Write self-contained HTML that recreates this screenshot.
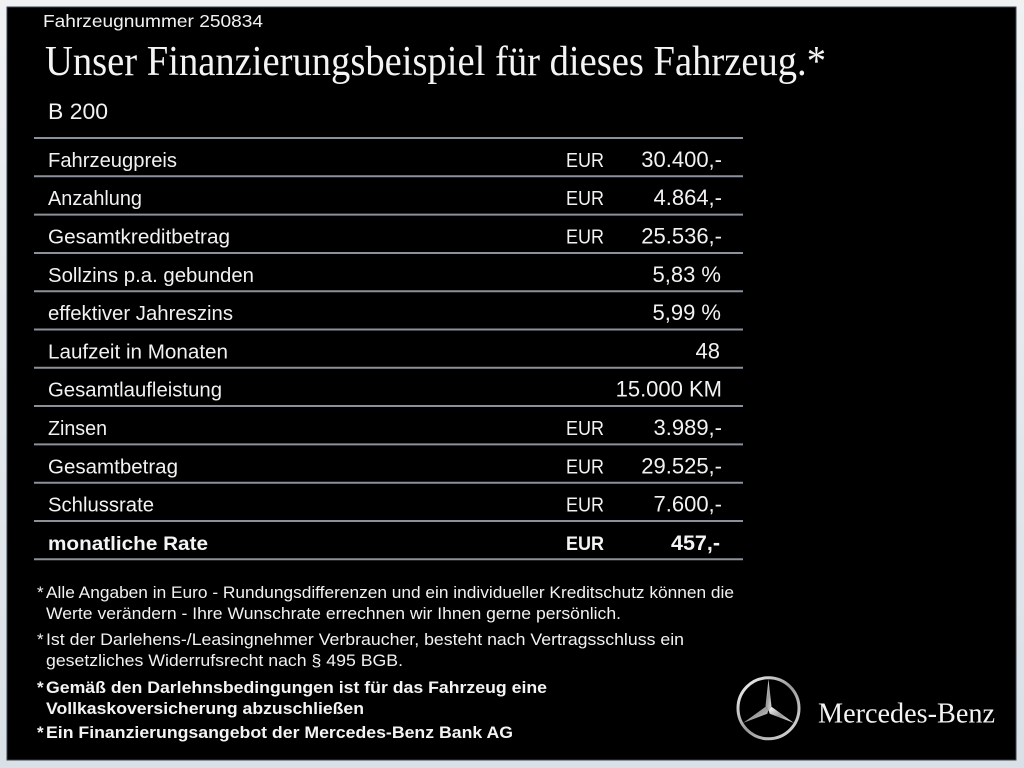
<!DOCTYPE html>
<html><head><meta charset="utf-8"><style>
html,body{margin:0;padding:0;width:1024px;height:768px;overflow:hidden;background:#e6eaee;}
svg{display:block;}
.s{font-family:"Liberation Sans",sans-serif;fill:#f2f2f2;}
.b{font-family:"Liberation Sans",sans-serif;fill:#f4f4f4;font-weight:bold;}
.f{font-family:"Liberation Serif",serif;fill:#f4f4f4;}
</style></head><body>
<svg width="1024" height="768" viewBox="0 0 1024 768" xmlns="http://www.w3.org/2000/svg">
<defs>
<linearGradient id="bg" x1="0" y1="0" x2="0" y2="1">
<stop offset="0" stop-color="#eff1f3"/><stop offset="1" stop-color="#d9e0e6"/>
</linearGradient>
<linearGradient id="silver" x1="0" y1="0" x2="1" y2="1">
<stop offset="0" stop-color="#ffffff"/><stop offset="0.5" stop-color="#9a9a9a"/><stop offset="1" stop-color="#e0e0e0"/>
</linearGradient>
</defs>
<rect x="0" y="0" width="1024" height="768" fill="url(#bg)"/>
<rect x="7" y="7" width="1009" height="753" fill="#000" stroke="#3a4450" stroke-width="1"/>

<text class="s" x="43" y="27" font-size="17.5" textLength="220" lengthAdjust="spacingAndGlyphs">Fahrzeugnummer 250834</text>
<text class="f" x="45" y="75" font-size="42" textLength="781" lengthAdjust="spacingAndGlyphs">Unser Finanzierungsbeispiel für dieses Fahrzeug.*</text>
<text class="s" x="48" y="119" font-size="22" textLength="60" lengthAdjust="spacingAndGlyphs">B 200</text>

<g stroke="#8a919a" stroke-width="2">
<line x1="34" y1="138" x2="743" y2="138"/>
<line x1="34" y1="176.3" x2="743" y2="176.3"/>
<line x1="34" y1="214.6" x2="743" y2="214.6"/>
<line x1="34" y1="253" x2="743" y2="253"/>
<line x1="34" y1="291.2" x2="743" y2="291.2"/>
<line x1="34" y1="329.5" x2="743" y2="329.5"/>
<line x1="34" y1="367.8" x2="743" y2="367.8"/>
<line x1="34" y1="406" x2="743" y2="406"/>
<line x1="34" y1="444.4" x2="743" y2="444.4"/>
<line x1="34" y1="482.7" x2="743" y2="482.7"/>
<line x1="34" y1="521" x2="743" y2="521"/>
<line x1="34" y1="559.3" x2="743" y2="559.3"/>
</g>

<g class="s" font-size="20.5">
<text x="48" y="166.8" textLength="129" lengthAdjust="spacingAndGlyphs">Fahrzeugpreis</text>
<text x="48" y="205.1" textLength="94" lengthAdjust="spacingAndGlyphs">Anzahlung</text>
<text x="48" y="243.5" textLength="182" lengthAdjust="spacingAndGlyphs">Gesamtkreditbetrag</text>
<text x="48" y="281.8" textLength="206" lengthAdjust="spacingAndGlyphs">Sollzins p.a. gebunden</text>
<text x="48" y="320.1" textLength="185" lengthAdjust="spacingAndGlyphs">effektiver Jahreszins</text>
<text x="48" y="358.4" textLength="180" lengthAdjust="spacingAndGlyphs">Laufzeit in Monaten</text>
<text x="48" y="396.6" textLength="174" lengthAdjust="spacingAndGlyphs">Gesamtlaufleistung</text>
<text x="48" y="435" textLength="59" lengthAdjust="spacingAndGlyphs">Zinsen</text>
<text x="48" y="473.3" textLength="130" lengthAdjust="spacingAndGlyphs">Gesamtbetrag</text>
<text x="48" y="511.6" textLength="106" lengthAdjust="spacingAndGlyphs">Schlussrate</text>
</g>
<text class="b" x="48" y="549.9" font-size="19.5" textLength="160" lengthAdjust="spacingAndGlyphs">monatliche Rate</text>

<g class="s" font-size="20.5">
<text x="566" y="166.8" textLength="38" lengthAdjust="spacingAndGlyphs">EUR</text>
<text x="566" y="205.1" textLength="38" lengthAdjust="spacingAndGlyphs">EUR</text>
<text x="566" y="243.5" textLength="38" lengthAdjust="spacingAndGlyphs">EUR</text>
<text x="566" y="435" textLength="38" lengthAdjust="spacingAndGlyphs">EUR</text>
<text x="566" y="473.3" textLength="38" lengthAdjust="spacingAndGlyphs">EUR</text>
<text x="566" y="511.6" textLength="38" lengthAdjust="spacingAndGlyphs">EUR</text>
</g>
<text class="b" x="566" y="549.9" font-size="19.5" textLength="38" lengthAdjust="spacingAndGlyphs">EUR</text>

<g class="s" font-size="22" text-anchor="end">
<text x="722" y="166.8">30.400,-</text>
<text x="722" y="205.1">4.864,-</text>
<text x="722" y="243.5">25.536,-</text>
<text x="721" y="281.8">5,83 %</text>
<text x="721" y="320.1">5,99 %</text>
<text x="720" y="358.4">48</text>
<text x="722" y="396.6">15.000 KM</text>
<text x="722" y="435">3.989,-</text>
<text x="722" y="473.3">29.525,-</text>
<text x="722" y="511.6">7.600,-</text>
</g>
<text class="b" x="720" y="549.9" font-size="21.5" text-anchor="end">457,-</text>

<g class="s" font-size="17" fill="#ececec">
<text x="37" y="598">*</text>
<text x="46" y="598" textLength="688" lengthAdjust="spacingAndGlyphs">Alle Angaben in Euro - Rundungsdifferenzen und ein individueller Kreditschutz können die</text>
<text x="46" y="619" textLength="575" lengthAdjust="spacingAndGlyphs">Werte verändern - Ihre Wunschrate errechnen wir Ihnen gerne persönlich.</text>
<text x="37" y="645">*</text>
<text x="46" y="645" textLength="638" lengthAdjust="spacingAndGlyphs">Ist der Darlehens-/Leasingnehmer Verbraucher, besteht nach Vertragsschluss ein</text>
<text x="46" y="666" textLength="357" lengthAdjust="spacingAndGlyphs">gesetzliches  Widerrufsrecht nach § 495 BGB.</text>
</g>
<g class="b" font-size="17">
<text x="37" y="693">*</text>
<text x="46" y="693" textLength="501" lengthAdjust="spacingAndGlyphs">Gemäß den Darlehnsbedingungen ist für das Fahrzeug eine</text>
<text x="46" y="714" textLength="318" lengthAdjust="spacingAndGlyphs">Vollkaskoversicherung abzuschließen</text>
<text x="37" y="738">*</text>
<text x="46" y="738" textLength="467" lengthAdjust="spacingAndGlyphs">Ein Finanzierungsangebot der Mercedes-Benz Bank AG</text>
</g>

<!-- Mercedes star -->
<circle cx="768.5" cy="708.3" r="30.5" fill="none" stroke="url(#silver)" stroke-width="3"/>
<g fill="url(#silver)">
<polygon points="768.5,679 771.5,706.5 768.5,710 765.5,706.5"/>
<polygon points="743.2,722.9 765.5,706.8 768.5,710 767.3,713.8"/>
<polygon points="793.8,722.9 769.7,713.8 768.5,710 771.5,706.8"/>
</g>
<text class="f" x="818" y="722.7" font-size="29" textLength="177" lengthAdjust="spacingAndGlyphs">Mercedes-Benz</text>
</svg>
</body></html>
